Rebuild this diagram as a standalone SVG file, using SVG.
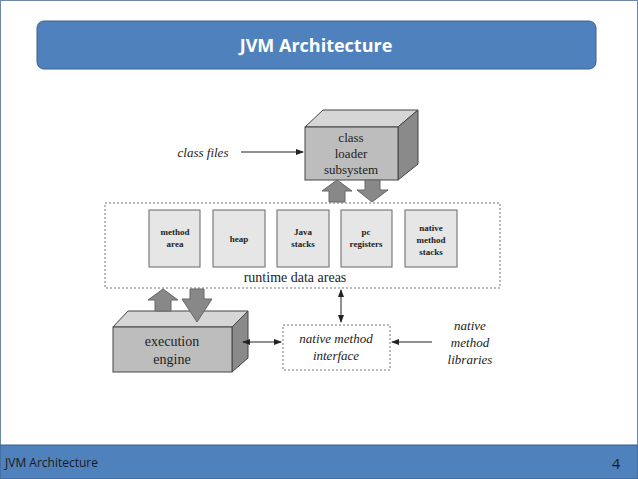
<svg xmlns="http://www.w3.org/2000/svg" width="638" height="479" viewBox="0 0 638 479">
<style>
.ser{font-family:"Liberation Serif","DejaVu Serif",serif;fill:#222}
.box{fill:#e6e6e6;stroke:#666;stroke-width:1}
.face{fill:#bdbdbd;stroke:#444;stroke-width:1}
.top{fill:#d6d6d6;stroke:#444;stroke-width:1}
.side{fill:#8a8a8a;stroke:#444;stroke-width:1}
.fat{fill:#888;stroke:#666;stroke-width:1}
.ln{stroke:#222;stroke-width:1;fill:none}
.dash{fill:none;stroke:#777;stroke-width:1;stroke-dasharray:2,2}
</style>
<defs>
<marker id="ah" markerWidth="8" markerHeight="6" refX="7" refY="3" orient="auto-start-reverse" markerUnits="userSpaceOnUse"><path d="M0,0 L8,3 L0,6 Z" fill="#222"/></marker>
</defs>
<rect x="0.5" y="0.5" width="637" height="478" fill="#fff" stroke="#6b88a8"/>
<g id="title">
<rect x="37" y="21" width="559" height="48" rx="7" fill="#4f81bd" stroke="#3a6190"/>
<text x="316" y="52" text-anchor="middle" font-family="Open Sans,Liberation Sans,sans-serif" font-weight="bold" font-size="18" fill="#fff">JVM Architecture</text>
</g>
<g id="footer">
<rect x="0" y="445" width="638" height="34" fill="#4f81bd" stroke="#3a6190"/>
<text x="5" y="467" font-family="Open Sans,Liberation Sans,sans-serif" font-size="12" fill="#1a1a1a">JVM Architecture</text>
<text x="616" y="469" font-family="Open Sans,Liberation Sans,sans-serif" font-size="15" fill="#1a1a1a" text-anchor="middle">4</text>
</g>
<g id="runtime">
<rect class="dash" x="105" y="203" width="395" height="85"/>
<text class="ser" x="295" y="282" text-anchor="middle" font-size="14">runtime data areas</text>
</g>
<g id="class-loader">
<polygon class="top" points="305,127 323,110 418,110 398,127"/>
<polygon class="side" points="398,127 418,110 418,164 398,180"/>
<rect class="face" x="305" y="127" width="93" height="53"/>
<text class="ser" x="351" y="142" text-anchor="middle" font-size="13">class</text>
<text class="ser" x="351" y="158" text-anchor="middle" font-size="13">loader</text>
<text class="ser" x="351" y="174" text-anchor="middle" font-size="13">subsystem</text>
</g>
<g id="method-area"><rect class="box" x="149" y="210" width="51" height="57"/><text class="ser" x="175" y="235" text-anchor="middle" font-size="9" font-weight="bold">method</text><text class="ser" x="175" y="247" text-anchor="middle" font-size="9" font-weight="bold">area</text></g>
<g id="heap"><rect class="box" x="213" y="210" width="52" height="57"/><text class="ser" x="239" y="242" text-anchor="middle" font-size="9" font-weight="bold">heap</text></g>
<g id="java-stacks"><rect class="box" x="277" y="210" width="52" height="57"/><text class="ser" x="303" y="235" text-anchor="middle" font-size="9" font-weight="bold">Java</text><text class="ser" x="303" y="247" text-anchor="middle" font-size="9" font-weight="bold">stacks</text></g>
<g id="pc-registers"><rect class="box" x="341" y="210" width="51" height="57"/><text class="ser" x="366" y="235" text-anchor="middle" font-size="9" font-weight="bold">pc</text><text class="ser" x="366" y="247" text-anchor="middle" font-size="9" font-weight="bold">registers</text></g>
<g id="native-method-stacks"><rect class="box" x="405" y="210" width="52" height="57"/><text class="ser" x="431" y="231" text-anchor="middle" font-size="9" font-weight="bold">native</text><text class="ser" x="431" y="243" text-anchor="middle" font-size="9" font-weight="bold">method</text><text class="ser" x="431" y="255" text-anchor="middle" font-size="9" font-weight="bold">stacks</text></g>
<g id="execution-engine">
<polygon class="top" points="113,327 128,311 248,311 232,327"/>
<polygon class="side" points="232,327 248,311 248,358 232,372"/>
<rect class="face" x="113" y="327" width="119" height="45"/>
<text class="ser" x="172" y="346" text-anchor="middle" font-size="14">execution</text>
<text class="ser" x="172" y="364" text-anchor="middle" font-size="14">engine</text>
</g>
<g id="native-method-interface">
<rect class="dash" x="283" y="325" width="107" height="45"/>
<text class="ser" x="336" y="343" text-anchor="middle" font-size="13" font-style="italic">native method</text>
<text class="ser" x="336" y="360" text-anchor="middle" font-size="13" font-style="italic">interface</text>
</g>
<g id="class-files"><text class="ser" x="203" y="157" text-anchor="middle" font-size="13" font-style="italic">class files</text></g>
<g id="native-method-libraries">
<text class="ser" x="470" y="330" text-anchor="middle" font-size="13" font-style="italic">native</text>
<text class="ser" x="470" y="347" text-anchor="middle" font-size="13" font-style="italic">method</text>
<text class="ser" x="470" y="364" text-anchor="middle" font-size="13" font-style="italic">libraries</text>
</g>
<g id="connectors">
<line class="ln" x1="241" y1="152" x2="303" y2="152" marker-end="url(#ah)"/>
<polygon class="fat" points="337,180 352,191 345,191 345,202 329,202 329,191 322,191"/>
<polygon class="fat" points="365,180 380,180 380,190 388,190 372,202 357,190 365,190"/>
<polygon class="fat" points="163,289 178,300 171,300 171,311 155,311 155,300 148,300"/>
<polygon class="fat" points="190,289 204,289 204,299 212,299 197,322 182,299 190,299"/>
<line class="ln" x1="341" y1="290" x2="341" y2="322" marker-start="url(#ah)" marker-end="url(#ah)"/>
<line class="ln" x1="243" y1="342" x2="281" y2="342" marker-start="url(#ah)" marker-end="url(#ah)"/>
<line class="ln" x1="432" y1="342" x2="392" y2="342" marker-end="url(#ah)"/>
</g>
</svg>
